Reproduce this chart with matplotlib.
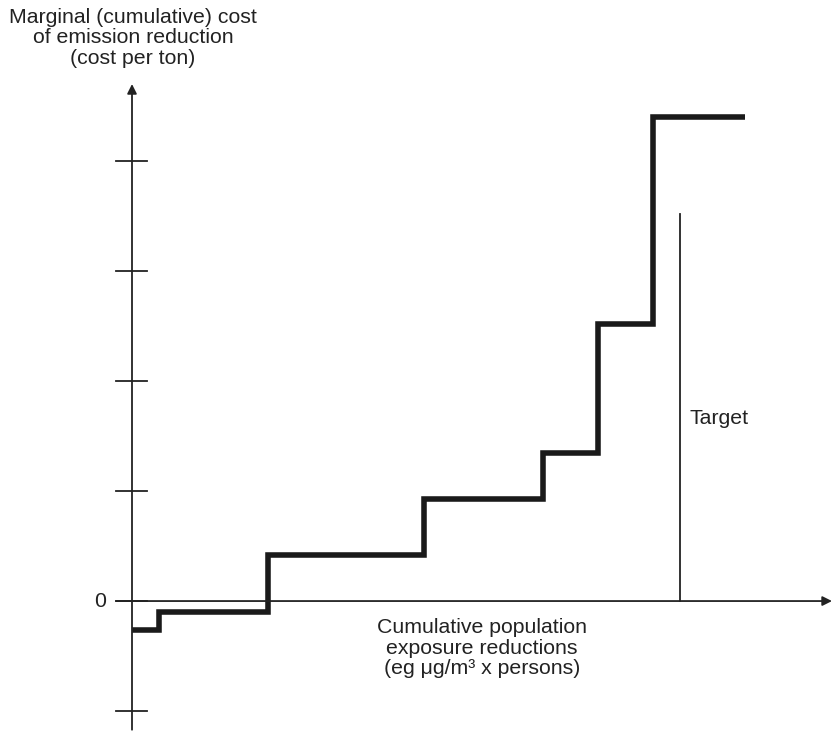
import numpy as np
import matplotlib
matplotlib.use('Agg')
import matplotlib.pyplot as plt

plt.rcParams['font.family'] = ['Liberation Sans', 'DejaVu Sans']

# step edges (cumulative exposure reduction, arbitrary units)
step_x = [0.0, 0.27, 1.36, 2.92, 4.11, 4.66, 5.21, 6.13]
# marginal cost of each step (tick units)
step_cost = [-0.26, -0.10, 0.42, 0.93, 1.35, 2.52, 4.40]
tick_vals = [-1, 0, 1, 2, 3, 4]
target_x = 5.48
target_top = 3.52

fs = 15.3

fig = plt.figure(figsize=(8.32, 7.38), dpi=100)
ax = fig.add_axes([0, 0, 1, 1])
ax.set_xlim(-1.32, 7.0)
ax.set_ylim(-1.245, 5.464)
ax.axis('off')

# axes with arrows
ax.annotate('', xy=(7.0, 0), xytext=(-0.16, 0),
            arrowprops=dict(arrowstyle='-|>', color='#222222', lw=1.3,
                            mutation_scale=14, shrinkA=0, shrinkB=0))
ax.annotate('', xy=(0, 4.70), xytext=(0, -1.17),
            arrowprops=dict(arrowstyle='-|>', color='#222222', lw=1.3,
                            mutation_scale=14, shrinkA=0, shrinkB=0))
for t in tick_vals:
    ax.plot([-0.16, 0.15], [t, t], color='#222222', lw=1.3)
ax.text(-0.32, 0, '0', ha='center', va='center', fontsize=fs, color='#222222')

# step curve
xs = []
ys = []
for i, c in enumerate(step_cost):
    xs += [step_x[i], step_x[i + 1]]
    ys += [c, c]
ax.plot(xs, ys, color='#1a1a1a', lw=4, solid_joinstyle='miter', solid_capstyle='butt')

# target line
ax.plot([target_x, target_x], [0, target_top], color='#222222', lw=1.3)
ax.text(5.58, 1.66, 'Target', ha='left', va='center', fontsize=fs, color='#222222')

ax.text(0.01, 5.12, 'Marginal (cumulative) cost\nof emission reduction\n(cost per ton)',
        ha='center', va='center', fontsize=fs, linespacing=1.1, color='#222222')
ax.text(3.5, -0.43, 'Cumulative population\nexposure reductions\n(eg \u03bcg/m\u00b3 x persons)',
        ha='center', va='center', fontsize=fs, linespacing=1.1, color='#222222')

fig.savefig('out.png', dpi=100)
